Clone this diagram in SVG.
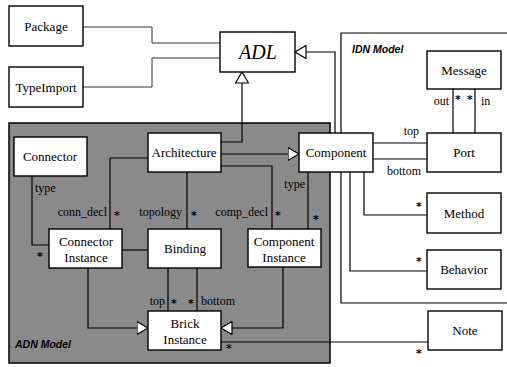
<svg xmlns="http://www.w3.org/2000/svg" width="507" height="367" viewBox="0 0 507 367">
<defs>
<marker id="gen" viewBox="0 0 12 14" refX="11.5" refY="7" markerWidth="12" markerHeight="14" markerUnits="userSpaceOnUse" orient="auto">
<path d="M0.5,0.5 L11.5,7 L0.5,13.5 Z" fill="#fff" stroke="#000" stroke-width="1.2"/>
</marker>
</defs>
<style>
.box{fill:#fff;stroke:#000;stroke-width:1.4}
.t{font-family:"Liberation Serif","Times New Roman",serif;font-size:13px;fill:#000;text-anchor:middle}
.lbl{font-family:"Liberation Serif","Times New Roman",serif;font-size:12px;fill:#000}
.star{font-family:"DejaVu Sans","Liberation Sans",sans-serif;font-size:11px;font-weight:bold;fill:#000;text-anchor:middle}
.frame{font-family:"Liberation Sans",Arial,sans-serif;font-size:10.5px;font-weight:bold;font-style:italic;fill:#000}
.c{fill:none;stroke:#000;stroke-width:1.2}
.cl{fill:none;stroke:#333;stroke-width:1}
.g{marker-end:url(#gen)}
</style>
<rect id="adn-region" x="9" y="123" width="321" height="240" fill="#8a8a8a" stroke="#000" stroke-width="1.5"/>
<path id="idn-region" d="M508,33 H341 V303 H508" fill="none" stroke="#000" stroke-width="1.2"/>
<text class="frame" x="15" y="348">ADN Model</text>
<text class="frame" x="352" y="53">IDN Model</text>
<g id="connectors">
<path class="cl" d="M83,27 H152 V43 H220"/>
<path class="cl" d="M83,87 H152 V58 H220"/>
<path class="c g" d="M221,142 H242 V72"/>
<path class="c g" d="M335,133 V52 H295"/>
<path class="c g" d="M221,154 H299"/>
<path class="c" d="M148,158 H110 V229"/>
<path class="c" d="M187,172 V229"/>
<path class="c" d="M221,166 H272 V229"/>
<path class="c" d="M308,172 V229"/>
<path class="c" d="M32,176 V245 H49"/>
<path class="c" d="M122,250 H148"/>
<path class="c" d="M168,268 V311"/>
<path class="c" d="M197,268 V311"/>
<path class="c g" d="M88,268 V328 H148"/>
<path class="c g" d="M283,267 V328 H221"/>
<path class="c" d="M221,342 H428"/>
<path class="c" d="M373,143 H427"/>
<path class="c" d="M373,159 H427"/>
<path class="c" d="M453,89 V133"/>
<path class="c" d="M475,89 V133"/>
<path class="c" d="M364,172 V215 H427"/>
<path class="c" d="M350,172 V271 H427"/>
<text class="lbl" x="35" y="192">type</text>
<text class="star" x="40" y="260">*</text>
<text class="lbl" x="107" y="216" text-anchor="end">conn_decl</text>
<text class="star" x="117" y="219">*</text>
<text class="lbl" x="182" y="216" text-anchor="end">topology</text>
<text class="star" x="194" y="219">*</text>
<text class="lbl" x="268" y="216" text-anchor="end">comp_decl</text>
<text class="star" x="278" y="219">*</text>
<text class="lbl" x="305" y="188" text-anchor="end">type</text>
<text class="star" x="316" y="223">*</text>
<text class="lbl" x="165" y="305" text-anchor="end">top</text>
<text class="star" x="174" y="307">*</text>
<text class="star" x="191" y="307">*</text>
<text class="lbl" x="201" y="305">bottom</text>
<text class="star" x="229" y="352">*</text>
<text class="star" x="419" y="357">*</text>
<text class="lbl" x="419" y="135" text-anchor="end">top</text>
<text class="lbl" x="387" y="175">bottom</text>
<text class="lbl" x="449" y="105" text-anchor="end">out</text>
<text class="star" x="458" y="103">*</text>
<text class="star" x="470" y="103">*</text>
<text class="lbl" x="481" y="105">in</text>
<text class="star" x="419" y="210">*</text>
<text class="star" x="419" y="265">*</text>
</g>
<g id="package"><rect class="box" x="9" y="6" width="74" height="40"/><text class="t" x="46" y="31">Package</text></g>
<g id="typeimport"><rect class="box" x="9" y="67" width="74" height="40"/><text class="t" x="46" y="92">TypeImport</text></g>
<g id="adl"><rect class="box" x="220" y="32" width="75" height="40"/><text class="t" x="258" y="59" style="font-size:20px;font-style:italic">ADL</text></g>
<g id="message"><rect class="box" x="427" y="51" width="74" height="38"/><text class="t" x="464" y="75">Message</text></g>
<g id="port"><rect class="box" x="427" y="133" width="74" height="39"/><text class="t" x="464" y="157">Port</text></g>
<g id="component"><rect class="box" x="299" y="133" width="74" height="39"/><text class="t" x="336" y="157">Component</text></g>
<g id="method"><rect class="box" x="427" y="193" width="74" height="40"/><text class="t" x="464" y="218">Method</text></g>
<g id="behavior"><rect class="box" x="427" y="250" width="74" height="39"/><text class="t" x="464" y="274">Behavior</text></g>
<g id="note"><rect class="box" x="428" y="311" width="74" height="39"/><text class="t" x="465" y="335">Note</text></g>
<g id="connector"><rect class="box" x="14" y="137" width="73" height="39"/><text class="t" x="50" y="161">Connector</text></g>
<g id="architecture"><rect class="box" x="148" y="133" width="73" height="39"/><text class="t" x="184" y="157">Architecture</text></g>
<g id="connector-instance"><rect class="box" x="49" y="229" width="73" height="39"/><text class="t" x="86" y="246">Connector</text><text class="t" x="86" y="262">Instance</text></g>
<g id="binding"><rect class="box" x="148" y="229" width="73" height="39"/><text class="t" x="185" y="253">Binding</text></g>
<g id="component-instance"><rect class="box" x="248" y="229" width="73" height="38"/><text class="t" x="284" y="246">Component</text><text class="t" x="284" y="262">Instance</text></g>
<g id="brick-instance"><rect class="box" x="148" y="311" width="73" height="39"/><text class="t" x="185" y="328">Brick</text><text class="t" x="185" y="344">Instance</text></g>
</svg>
